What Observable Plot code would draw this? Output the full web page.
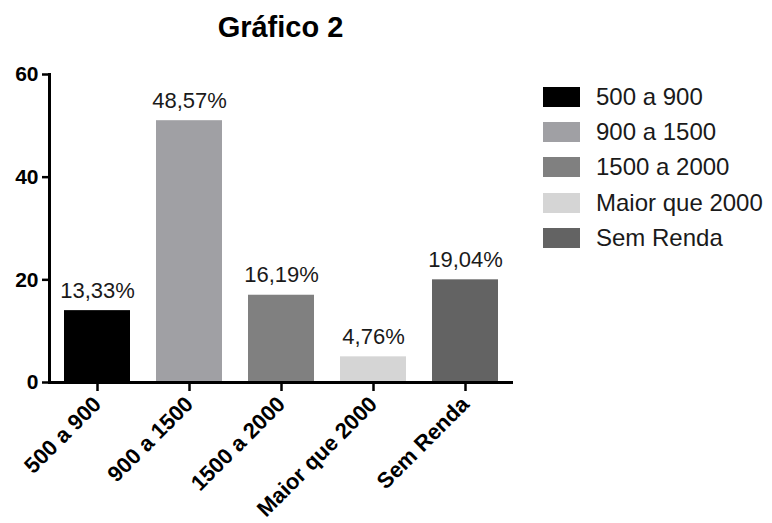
<!DOCTYPE html>
<html>
<head>
<meta charset="utf-8">
<script src="https://cdn.jsdelivr.net/npm/d3@7"></script>
<script src="https://cdn.jsdelivr.net/npm/@observablehq/plot@0.6"></script>
<style>
  html, body { margin: 0; padding: 0; background: #fff; }
  #wrap { position: relative; width: 772px; height: 523px; overflow: hidden; font-family: "Liberation Sans", Arial, sans-serif; }
  #title { position: absolute; left: 0; width: 561px; top: 13px; text-align: center; font-size: 29px; line-height: 29px; font-weight: bold; color: #000; }
  #legend { position: absolute; left: 543px; top: 79px; }
  #legend .lg-swatches { margin: 0; font-size: 24px; font-family: "Liberation Sans", Arial, sans-serif; color: #1a1a1a; }
  #legend .lg-swatch { height: 35.3px; padding-bottom: 0 !important; display: flex; align-items: center; }
  #legend .lg-swatch > svg { margin-right: 16px !important; }
  #legend .lg-swatch-label { overflow: visible !important; }
  #chart svg { position: absolute; left: 0; top: 0; }
</style>
</head>
<body>
<div id="wrap">
  <div id="chart"></div>
  <div id="title">Gráfico 2</div>
  <div id="legend"></div>
</div>
<script>
const categories = ["500 a 900", "900 a 1500", "1500 a 2000", "Maior que 2000", "Sem Renda"];
const values = [14, 51, 17, 5, 20];
const percentLabels = ["13,33%", "48,57%", "16,19%", "4,76%", "19,04%"];
const colors = ["#000000", "#a0a0a4", "#808080", "#d5d5d5", "#636363"];
const yTicks = [0, 20, 40, 60];

const data = categories.map((c, i) => ({cat: c, value: values[i], label: percentLabels[i]}));
const font = "Liberation Sans, Arial, sans-serif";

const chart = Plot.plot({
  width: 772,
  height: 523,
  marginLeft: 49,
  marginRight: 259,
  marginTop: 74,
  marginBottom: 141,
  style: {fontFamily: font, background: "transparent", overflow: "visible"},
  x: {domain: categories, paddingInner: 0.286, paddingOuter: 0.143},
  y: {domain: [0, 60]},
  color: {domain: categories, range: colors},
  marks: [
    Plot.barY(data, {x: "cat", y: "value", fill: "cat"}),
    Plot.text(data, {x: "cat", y: "value", text: "label", dy: -13, lineAnchor: "bottom", fontSize: 22, fill: "#1a1a1a"}),
    Plot.ruleY([0], {stroke: "#000", strokeWidth: 3}),
    Plot.frame({anchor: "left", stroke: "#000", strokeWidth: 3}),
    Plot.axisY({ticks: yTicks, tickSize: 7, tickPadding: 4, fontSize: 21, fontWeight: "bold", strokeWidth: 2.5, label: null, fill: "#000", stroke: "#000"}),
    Plot.axisX({tickRotate: -45, tickSize: 9, tickPadding: 9, fontSize: 22, fontWeight: "bold", strokeWidth: 2.5, label: null, fill: "#000", stroke: "#000"})
  ]
});
document.getElementById("chart").appendChild(chart);

const legend = Plot.legend({
  color: {domain: categories, range: colors},
  legend: "swatches",
  columns: 1,
  swatchWidth: 37,
  swatchHeight: 20,
  className: "lg"
});
document.getElementById("legend").appendChild(legend);
</script>
</body>
</html>
